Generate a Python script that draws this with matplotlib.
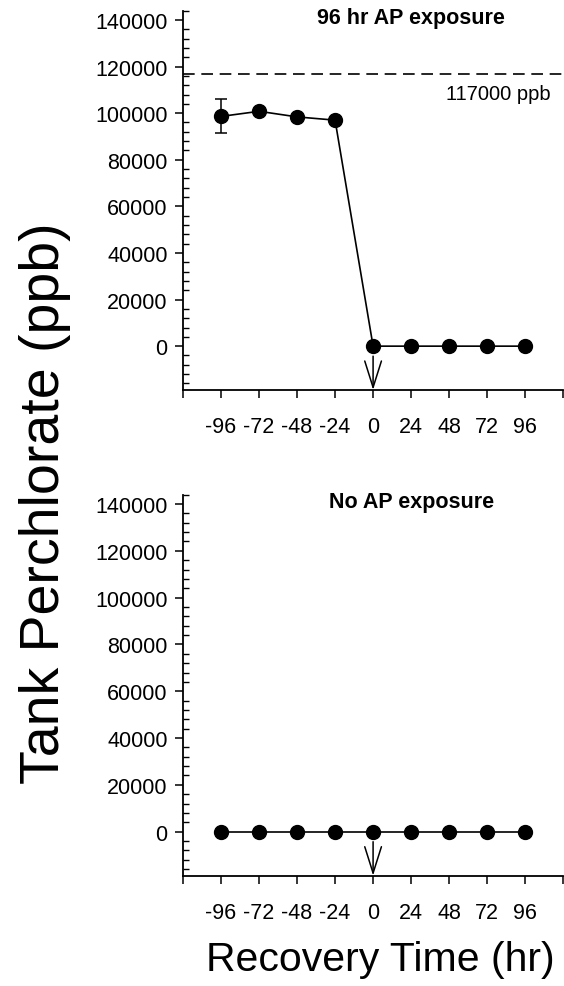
import matplotlib
matplotlib.use("Agg")
import matplotlib.pyplot as plt
from matplotlib.ticker import MultipleLocator

plt.rcParams['font.family'] = ['Liberation Sans', 'DejaVu Sans']

# data
hours = [-96, -72, -48, -24, 0, 24, 48, 72, 96]
ap_exposed = [98600, 100800, 98400, 97000, 0, 0, 0, 0, 0]
ap_exposed_err = [7300, 0, 0, 0, 0, 0, 0, 0, 0]
no_exposure = [0, 0, 0, 0, 0, 0, 0, 0, 0]
threshold = 117000
titles = ["96 hr AP exposure", "No AP exposure"]

fig = plt.figure(figsize=(5.64, 9.87), dpi=100)
ax1 = fig.add_axes([0.3245, 0.6039, 0.674, 0.3843])
ax2 = fig.add_axes([0.3245, 0.1118, 0.674, 0.386])


def style_axis(ax, title):
    ax.set_xlim(-120, 120)
    ax.set_ylim(-18800, 144000)
    for s in ["top", "right"]:
        ax.spines[s].set_visible(False)
    for s in ["left", "bottom"]:
        ax.spines[s].set_linewidth(1.3)
    ax.set_xticks([-120] + hours + [120])
    ax.set_xticklabels([""] + [str(h) for h in hours] + [""])
    ax.set_yticks(range(0, 140001, 20000))
    ax.yaxis.set_minor_locator(MultipleLocator(4000))
    ax.tick_params(axis="y", which="major", direction="out", length=6, width=1.1,
                   labelsize=15.5, pad=5)
    ax.tick_params(axis="y", which="minor", direction="in", length=4, width=1.0)
    ax.tick_params(axis="x", which="major", direction="out", length=6, width=1.1,
                   labelsize=15.5, pad=13)
    ax.set_title(title, fontsize=15.5, fontweight="bold", x=0.6, y=0.955, pad=0,
                 va="bottom")
    # arrow marking the start of recovery
    ax.annotate("", xy=(0, -18800), xytext=(0, -4300),
                arrowprops=dict(arrowstyle="->,head_length=1.9,head_width=0.6",
                                color="black", lw=1.1, shrinkA=0, shrinkB=0))


ax1.errorbar(hours, ap_exposed, yerr=ap_exposed_err, fmt="o-", color="black",
             markersize=10, lw=1.2, capsize=4.5, elinewidth=1.1, capthick=1.1)
ax1.axhline(threshold, color="black", lw=1.2, ls=(0, (7, 4)))
ax1.text(112, threshold - 4500, "117000 ppb", ha="right", va="top", fontsize=14.5)
style_axis(ax1, titles[0])

ax2.plot(hours, no_exposure, "o-", color="black", markersize=10, lw=1.2)
style_axis(ax2, titles[1])

fig.text(0.08, 0.49, "Tank Perchlorate (ppb)", rotation=90, ha="center",
         va="center", fontsize=40)
fig.text(0.675, 0.027, "Recovery Time (hr)", ha="center", va="center",
         fontsize=29.5)

fig.savefig("out.png", dpi=100)
